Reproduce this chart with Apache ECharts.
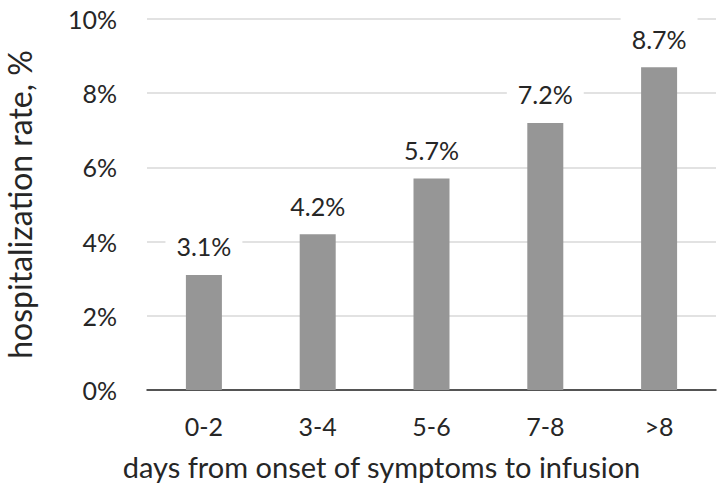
<!DOCTYPE html>
<html lang="en">
  <head>
    <meta charset="UTF-8" />
    <script src="https://cdn.jsdelivr.net/npm/echarts@6/dist/echarts.min.js"></script>
    <title>Hospitalization rate</title>
  </head>
  <body style="margin: 0; background: #fff">
    <div id="chart" style="width: 725px; height: 487px"></div>
  </body>
</html>

<script>
  const categories = ["0-2", "3-4", "5-6", "7-8", ">8"];
  const rates = [3.1, 4.2, 5.7, 7.2, 8.7];
  const textColor = "#262626";
  const fontFamily = "Lato, 'Open Sans', sans-serif";

  const chart = echarts.init(document.getElementById("chart"), null, { renderer: "svg" });
  chart.setOption({
    animation: false,
    textStyle: { fontFamily: fontFamily },
    grid: { left: 147, right: 9, top: 19, bottom: 97, outerBoundsMode: "none" },
    xAxis: {
      type: "category",
      data: categories,
      name: "days from onset of symptoms to infusion",
      nameLocation: "middle",
      nameGap: 62,
      // title sits left of the plot centre in the original
      nameTextStyle: { fontSize: 29, color: textColor, fontFamily: fontFamily, padding: [0, 100, 0, 0] },
      axisLine: { lineStyle: { color: "#262626", width: 1.5 } },
      axisTick: { show: false },
      axisLabel: { fontSize: 25, color: textColor, margin: 23 },
    },
    yAxis: {
      type: "value",
      min: 0,
      max: 10,
      interval: 2,
      name: "hospitalization rate, %",
      nameLocation: "middle",
      nameGap: 112,
      nameTextStyle: { fontSize: 32, color: textColor, fontFamily: fontFamily },
      axisLabel: { formatter: "{value}%", fontSize: 25, color: textColor, margin: 30 },
      splitLine: { lineStyle: { color: "#d9d9d9", width: 1.5 } },
    },
    series: [
      {
        type: "bar",
        data: rates,
        barWidth: 36,
        itemStyle: { color: "#969696" },
        label: {
          show: true,
          position: "top",
          distance: 12,
          formatter: (p) => p.value.toFixed(1) + "%",
          fontSize: 25,
          color: textColor,
          backgroundColor: "#fff",
          padding: [9, 11, 4, 11],
        },
      },
    ],
  });
</script>
